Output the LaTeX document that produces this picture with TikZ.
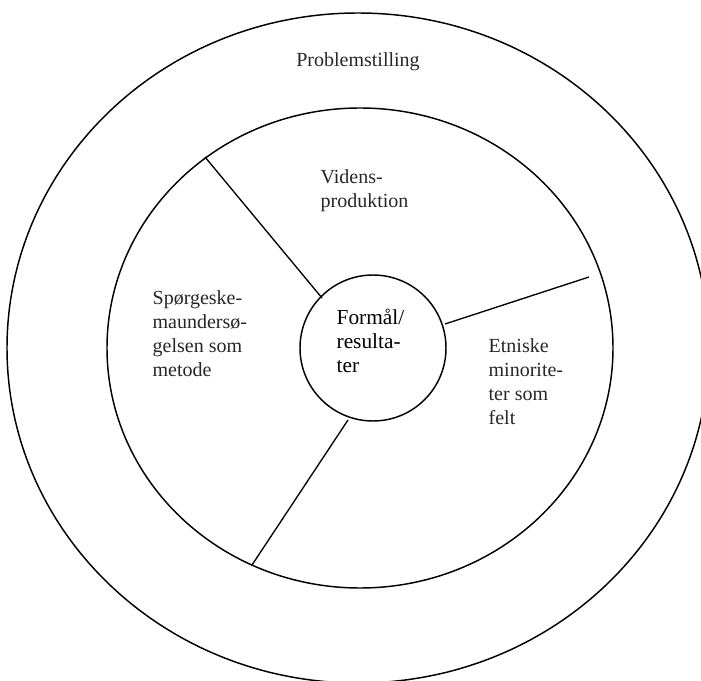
\documentclass[tikz,border=0pt]{standalone}
\usepackage{fontspec}
\setmainfont{Liberation Serif}
\begin{document}
\begin{tikzpicture}[x=0.75pt,y=-0.75pt,line width=1pt,
  lbl/.style={font=\fontsize{15}{18}\selectfont, align=left, anchor=base west, inner sep=0pt, text=black!85},
  corelbl/.style={font=\fontsize{16}{18}\selectfont, align=left, anchor=base west, inner sep=0pt},
  ring/.style={draw, line width=1.1pt},
  divider/.style={line width=1pt}]
\useasboundingbox (0,0) rectangle (701,681);
\clip (0,0) rectangle (701,681);
% rings
\draw[ring] (358,348) ellipse [x radius=351, y radius=335];
\draw[ring] (360,348) ellipse [x radius=253, y radius=240];
\node[circle, draw, line width=1.1pt, minimum size=109.5pt, inner sep=0pt] (core) at (373,348) {};
% dividers
\coordinate (a1) at (205,157); \coordinate (a2) at (322,298);
\coordinate (b1) at (445,324); \coordinate (b2) at (589,277);
\coordinate (c1) at (348,420); \coordinate (c2) at (252,565);
\draw[divider] (a1) -- (a2);
\draw[divider] (b1) -- (b2);
\draw[divider] (c1) -- (c2);
% labels (base anchor = baseline of the last line)
\node[lbl, anchor=base] (prob) at (358,67) {Problemstilling};
\node[lbl] (vid) at (320,208) {Videns-\\produktion};
\node[lbl] (sp) at (152,377) {Spørgeske-\\maundersø-\\gelsen som\\metode};
\node[lbl] (et) at (488,425) {Etniske\\minorite-\\ter som\\felt};
\node[corelbl] (fr) at (336,373) {Formål/\\resulta-\\ter};
\end{tikzpicture}
\end{document}
